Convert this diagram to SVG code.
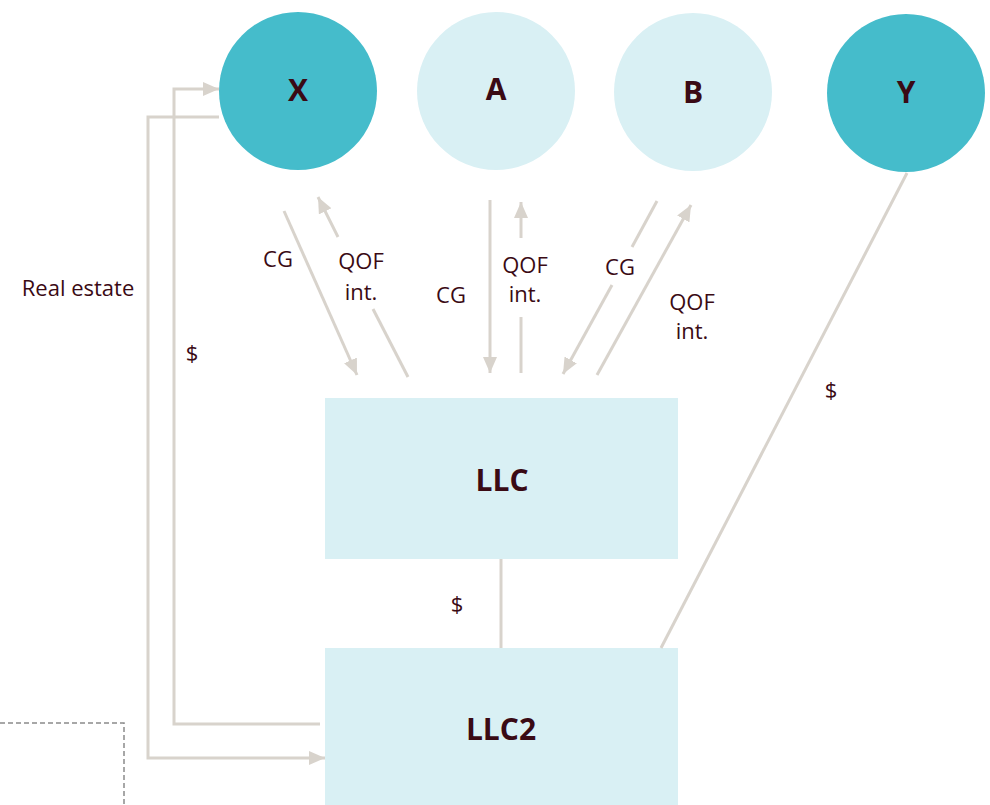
<svg xmlns="http://www.w3.org/2000/svg" width="990" height="805" viewBox="0 0 990 805">
  <style>
    .teal { fill: #45BCCB; }
    .pale { fill: #D9F0F4; }
    .conn { stroke: #D8D3CC; stroke-width: 3; fill: none; }
    .dash { stroke: #8A8A8A; stroke-width: 1.5; fill: none; stroke-dasharray: 5 3; }
    .lbl { font-family: "Open Sans", "Noto Sans", "Liberation Sans", sans-serif; font-size: 22px; fill: #3A0A14; text-anchor: middle; }
    .node { font-family: "Open Sans", "Noto Sans", "Liberation Sans", sans-serif; font-size: 30px; font-weight: bold; fill: #3A0A14; text-anchor: middle; }
  </style>
  <defs>
    <marker id="head" markerUnits="userSpaceOnUse" markerWidth="17" markerHeight="15" refX="16" refY="7" orient="auto">
      <path d="M0,0 L16,7 L0,14 Z" fill="#D8D3CC"/>
    </marker>
  </defs>

  <rect width="990" height="805" fill="#FFFFFF"/>

  <!-- dashed outline, lower left -->
  <path class="dash" d="M0,723 H124 V805"/>

  <!-- nodes -->
  <g id="X">
    <circle class="teal" cx="298" cy="91" r="79"/>
    <text class="node" x="298" y="101">X</text>
  </g>
  <g id="A">
    <circle class="pale" cx="496" cy="91" r="79"/>
    <text class="node" x="496" y="100">A</text>
  </g>
  <g id="B">
    <circle class="pale" cx="693" cy="92" r="79"/>
    <text class="node" x="693" y="103">B</text>
  </g>
  <g id="Y">
    <circle class="teal" cx="906" cy="93" r="79"/>
    <text class="node" x="906" y="103">Y</text>
  </g>
  <g id="LLC">
    <rect class="pale" x="325" y="398" width="353" height="161"/>
    <text class="node" x="502" y="491">LLC</text>
  </g>
  <g id="LLC2">
    <rect class="pale" x="325" y="648" width="353" height="157"/>
    <text class="node" x="501" y="740">LLC2</text>
  </g>

  <!-- connectors -->
  <g id="connectors">
    <!-- X to LLC2: real estate -->
    <path class="conn" d="M219,117 H148 V758 H325" marker-end="url(#head)"/>
    <!-- LLC2 to X: $ -->
    <path class="conn" d="M320,724 H174 V89 H219" marker-end="url(#head)"/>
    <!-- X / LLC -->
    <line class="conn" x1="284" y1="211" x2="357" y2="375" marker-end="url(#head)"/>
    <line class="conn" x1="408" y1="377" x2="373" y2="309"/>
    <line class="conn" x1="338" y1="237" x2="318" y2="197" marker-end="url(#head)"/>
    <!-- A / LLC -->
    <line class="conn" x1="490" y1="200" x2="490" y2="373" marker-end="url(#head)"/>
    <line class="conn" x1="521" y1="373" x2="521" y2="317"/>
    <line class="conn" x1="521" y1="238" x2="521" y2="202" marker-end="url(#head)"/>
    <!-- B / LLC -->
    <line class="conn" x1="657" y1="201" x2="632" y2="247"/>
    <line class="conn" x1="612" y1="285" x2="563" y2="374" marker-end="url(#head)"/>
    <line class="conn" x1="597" y1="375" x2="691" y2="205" marker-end="url(#head)"/>
    <!-- LLC to LLC2 -->
    <line class="conn" x1="501" y1="559" x2="501" y2="648"/>
    <!-- Y to LLC2 -->
    <line class="conn" x1="907" y1="173" x2="661" y2="648"/>
  </g>

  <!-- connector labels -->
  <g id="labels">
    <text class="lbl" x="78" y="296">Real estate</text>
    <text class="lbl" x="192" y="361">$</text>
    <text class="lbl" x="278" y="267">CG</text>
    <text class="lbl" x="361" y="269">QOF</text>
    <text class="lbl" x="361" y="300">int.</text>
    <text class="lbl" x="451" y="303">CG</text>
    <text class="lbl" x="525" y="273">QOF</text>
    <text class="lbl" x="525" y="302">int.</text>
    <text class="lbl" x="620" y="275">CG</text>
    <text class="lbl" x="692" y="310">QOF</text>
    <text class="lbl" x="692" y="339">int.</text>
    <text class="lbl" x="831" y="398">$</text>
    <text class="lbl" x="457" y="612">$</text>
  </g>
</svg>
